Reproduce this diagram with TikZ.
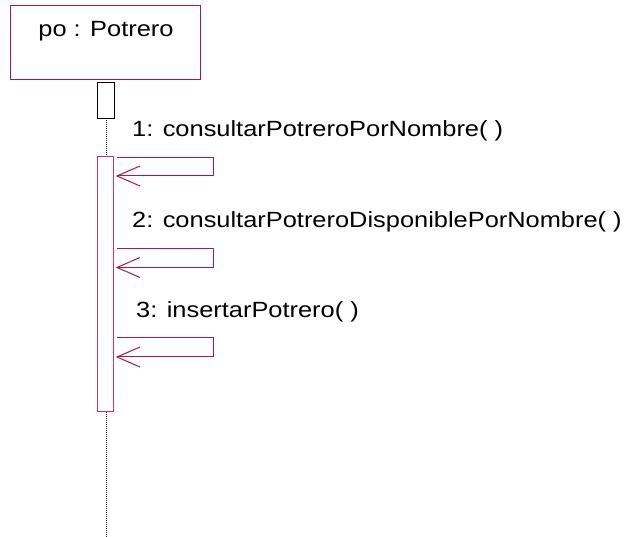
\documentclass[tikz,border=0pt]{standalone}
\usepackage{fontspec}
\setmainfont{Liberation Sans}[FakeStretch=1.155]
\definecolor{umlred}{RGB}{165,25,75}
\begin{document}
\begin{tikzpicture}[x=1pt,y=-1pt,
  objbox/.style={draw=umlred,line width=1pt,fill=white},
  actbox/.style={draw=umlred!85,line width=0.9pt,fill=white},
  focusbox/.style={draw=black,line width=0.8pt,fill=white},
  lifeline/.style={draw=black!85,line width=1pt,dash pattern=on 1pt off 1pt},
  msg/.style={draw=umlred,line width=1pt},
  lbl/.style={anchor=base west,inner sep=0pt,font=\fontsize{22}{26}\selectfont}]
\useasboundingbox (0,0) rectangle (630,537);
% lifeline
\coordinate (lltop) at (106,118);
\coordinate (llend) at (106,537);
\draw[lifeline] (lltop) -- (llend);
% object
\draw[objbox] (10,6) rectangle (200,80);
\node[anchor=base,inner sep=0pt,font=\fontsize{22}{26}\selectfont] (obj) at (106,37) {po : Potrero};
% small focus box
\draw[focusbox] (97,82) rectangle (114,118);
% activation
\draw[actbox] (97,156) rectangle (113,411);
% messages
\foreach \t/\b/\n in {158/176/1,249/267.5/2,338/357/3}{
  \coordinate (s\n) at (117,\t);
  \coordinate (e\n) at (117,\b);
  \draw[msg] (s\n) -- (213,\t) -- (213,\b) -- (e\n);
  \draw[msg] ([xshift=23pt,yshift=-10pt]e\n) -- (e\n) -- ([xshift=23pt,yshift=10pt]e\n);
}
\node[lbl] (l1) at (132,137) {1: consultarPotreroPorNombre( )};
\node[lbl] (l2) at (132,228) {2: consultarPotreroDisponiblePorNombre( )};
\node[lbl] (l3) at (136,318) {3: insertarPotrero( )};
\end{tikzpicture}
\end{document}
